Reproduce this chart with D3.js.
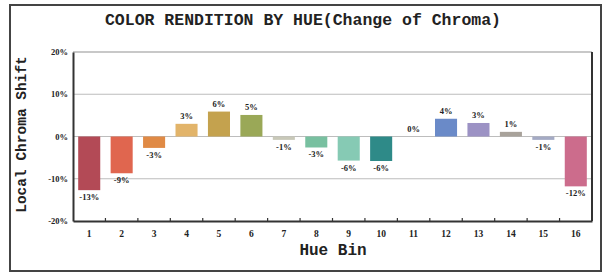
<!DOCTYPE html>
<html><head><meta charset="utf-8">
<script src="https://cdn.jsdelivr.net/npm/d3@7"></script>
<style>body{margin:0;background:#fff}svg{display:block}</style>
</head><body>
<svg id="c" width="604" height="273"></svg>
<script>
const bins = ["1","2","3","4","5","6","7","8","9","10","11","12","13","14","15","16"];
const shifts = [-12.7,-8.7,-2.7,3.0,5.9,5.1,-0.8,-2.6,-5.7,-5.8,0,4.2,3.2,1.1,-0.8,-11.8];
const valueLabels = ["-13%","-9%","-3%","3%","6%","5%","-1%","-3%","-6%","-6%","0%","4%","3%","1%","-1%","-12%"];
const barColors = ["#b34a56","#e0664f","#e08a45","#e2b46a","#c4a24e","#9aa857","#c8c8b8","#78c0a0","#86cab4","#2e8a88","#cccccc","#6a8ac8","#9c92c4","#a8a29a","#a4aac4","#cc6c8c"];
const yTicks = [-20,-10,0,10,20];
const yTickLabels = ["-20%","-10%","0%","10%","20%"];

const svg = d3.select("#c");
const m = {l:73, r:592, t:52, b:221};

svg.append("rect").attr("x",10).attr("y",5).attr("width",591).attr("height",266)
  .attr("fill","#fff").attr("stroke","#444").attr("stroke-width",2);

svg.append("text").attr("x",303).attr("y",25).attr("text-anchor","middle")
  .attr("font-family","'Liberation Mono', 'DejaVu Sans Mono', monospace").attr("font-weight","bold")
  .attr("font-size",16.5).attr("fill","#222").text("COLOR RENDITION BY HUE(Change of Chroma)");

const x = d3.scaleBand().domain(bins).range([m.l,m.r]).paddingInner(0.32).paddingOuter(0.16);
const y = d3.scaleLinear().domain([-20,20]).range([m.b,m.t]);

// gridlines
svg.append("g").selectAll("line").data(yTicks.filter(d=>d!==-20)).join("line")
  .attr("x1",m.l).attr("x2",m.r).attr("y1",d=>y(d)).attr("y2",d=>y(d))
  .attr("stroke",d=>d===20?"#c8c8c8":"#bdbdbd").attr("stroke-width",d=>d===20?2:1.2);

// bars
svg.append("g").selectAll("rect").data(shifts).join("rect")
  .attr("x",(d,i)=>x(bins[i])).attr("width",x.bandwidth())
  .attr("y",d=>y(Math.max(0,d))).attr("height",d=>Math.abs(y(d)-y(0)))
  .attr("fill",(d,i)=>barColors[i]);

// value labels
svg.append("g").selectAll("text").data(shifts).join("text")
  .attr("x",(d,i)=>x(bins[i])+x.bandwidth()/2)
  .attr("y",d=>d>=0? y(d)-5 : y(d)+10)
  .attr("text-anchor","middle").attr("font-family","'Liberation Serif', serif")
  .attr("font-weight","bold").attr("font-size",8.5).attr("fill","#222")
  .text((d,i)=>valueLabels[i]);

// axes
const xAxis = d3.axisBottom(x).tickSize(0).tickPadding(9);
const gx = svg.append("g").attr("transform",`translate(0,${m.b})`).call(xAxis);
gx.select(".domain").attr("stroke","#333").attr("stroke-width",2);
gx.selectAll("text").attr("font-family","'Liberation Serif', serif").attr("font-weight","bold").attr("font-size",9.5).attr("fill","#222");
// bin boundary ticks
const step = x.step();
svg.append("g").selectAll("line").data(d3.range(1,16)).join("line")
  .attr("x1",i=>m.l+i*step).attr("x2",i=>m.l+i*step).attr("y1",m.b-3).attr("y2",m.b)
  .attr("stroke","#333").attr("stroke-width",1.2);

const yAxis = d3.axisLeft(y).tickValues(yTicks).tickFormat((d,i)=>yTickLabels[i]).tickSize(0).tickPadding(5);
const gy = svg.append("g").attr("transform",`translate(${m.l},0)`).call(yAxis);
gy.select(".domain").attr("stroke","#333").attr("stroke-width",2);
gy.selectAll("text").attr("font-family","'Liberation Serif', serif").attr("font-weight","bold").attr("font-size",8.5).attr("fill","#222");

// right border of plot
svg.append("line").attr("x1",m.r).attr("x2",m.r).attr("y1",m.t).attr("y2",m.b).attr("stroke","#333").attr("stroke-width",2);

svg.append("text").attr("x",333).attr("y",255).attr("text-anchor","middle")
  .attr("font-family","'Liberation Mono', monospace").attr("font-weight","bold")
  .attr("font-size",16).attr("fill","#222").text("Hue Bin");

svg.append("text").attr("transform",`translate(26,${(m.t+m.b)/2 - 2}) rotate(-90)`).attr("text-anchor","middle")
  .attr("font-family","'Liberation Mono', monospace").attr("font-weight","bold")
  .attr("font-size",14.5).attr("fill","#222").text("Local Chroma Shift");
</script>
</body></html>
